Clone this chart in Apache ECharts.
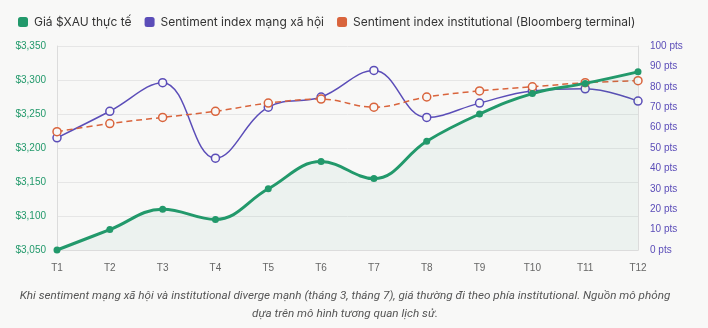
<!DOCTYPE html>
<html><head><meta charset="utf-8">
<script src="https://cdn.jsdelivr.net/npm/echarts@6/dist/echarts.min.js"></script>
<style>
html,body{margin:0;padding:0;background:#f8f8f7;}
#c{width:708px;height:328px;}
</style></head><body>
<div id="c"></div>
<script>
const categories = ['T1','T2','T3','T4','T5','T6','T7','T8','T9','T10','T11','T12'];
const priceXAU = [3050,3080,3110,3095,3140,3180,3155,3210,3250,3280,3295,3312];
const sentimentSocial = [55,68,82,45,70,75,88,65,72,78,79,73];
const sentimentInst = [58,62,65,68,72,74,70,75,78,80,82,83];
const leftTicks = [3050,3100,3150,3200,3250,3300,3350];
const caption = 'Khi sentiment mạng xã hội và institutional diverge mạnh (tháng 3, tháng 7), giá thường đi theo phía institutional. Nguồn mô phỏng\ndựa trên mô hình tương quan lịch sử.';

const green = '#22996b', purple = '#5b4db8', orange = '#d9643c';
const chart = echarts.init(document.getElementById('c'));
chart.setOption({
  backgroundColor: '#f8f8f7',
  animation: false,
  textStyle: {fontFamily: 'Liberation Sans'},
  legend: {
    left: 13, top: 11, itemWidth: 10, itemHeight: 10, itemGap: 13, icon: 'roundRect',
    textStyle: {fontFamily: 'Inter', fontSize: 12, color: '#333', padding: [0, 0, 0, 1]},
    data: [
      {name: 'Giá $XAU thực tế', itemStyle: {color: green, borderWidth: 0}},
      {name: 'Sentiment index mạng xã hội', itemStyle: {color: purple, borderWidth: 0}},
      {name: 'Sentiment index institutional (Bloomberg terminal)', itemStyle: {color: orange, borderWidth: 0}}
    ]
  },
  grid: {left: 57, right: 70, top: 46, bottom: 78},
  xAxis: {
    type: 'category', data: categories, boundaryGap: false,
    axisLine: {lineStyle: {color: '#dcdcdc'}}, axisTick: {show: false},
    axisLabel: {color: '#666', fontSize: 10, margin: 13},
    splitLine: {show: false}
  },
  yAxis: [
    {type: 'value', min: 3050, max: 3350, interval: 50, position: 'left',
     axisLine: {show: true, lineStyle: {color: '#dcdcdc'}}, axisTick: {show: false},
     axisLabel: {color: green, fontSize: 10, margin: 11, formatter: v => '$' + v.toLocaleString('en-US')},
     splitLine: {lineStyle: {color: '#e6e6e6'}}},
    {type: 'value', min: 0, max: 100, interval: 10, position: 'right',
     axisLine: {show: true, lineStyle: {color: '#dcdcdc'}}, axisTick: {show: false},
     axisLabel: {color: purple, fontSize: 10, margin: 12, formatter: v => v + ' pts'},
     splitLine: {show: false}}
  ],
  graphic: [{
    type: 'text', x: 345, y: 287,
    style: {text: caption, fill: '#555', font: 'italic 11.7px Roboto', align: 'center', verticalAlign: 'top', lineHeight: 18}
  }],
  series: [
    {name: 'Giá $XAU thực tế', type: 'line', yAxisIndex: 0, data: priceXAU, smooth: 0.4,
     symbol: 'circle', symbolSize: 7, lineStyle: {color: green, width: 3}, itemStyle: {color: green},
     areaStyle: {color: 'rgba(34,153,107,0.08)'}, z: 3},
    {name: 'Sentiment index mạng xã hội', type: 'line', yAxisIndex: 1, data: sentimentSocial, smooth: 0.4,
     symbol: 'circle', symbolSize: 8, lineStyle: {color: purple, width: 1.5},
     itemStyle: {color: '#f8f8f7', borderColor: purple, borderWidth: 1.5}, z: 2},
    {name: 'Sentiment index institutional (Bloomberg terminal)', type: 'line', yAxisIndex: 1, data: sentimentInst, smooth: 0.4,
     symbol: 'circle', symbolSize: 8, lineStyle: {color: orange, width: 1.5, type: [6, 4]},
     itemStyle: {color: '#f8f8f7', borderColor: orange, borderWidth: 1.5}, z: 2}
  ]
});
</script>
</body></html>
